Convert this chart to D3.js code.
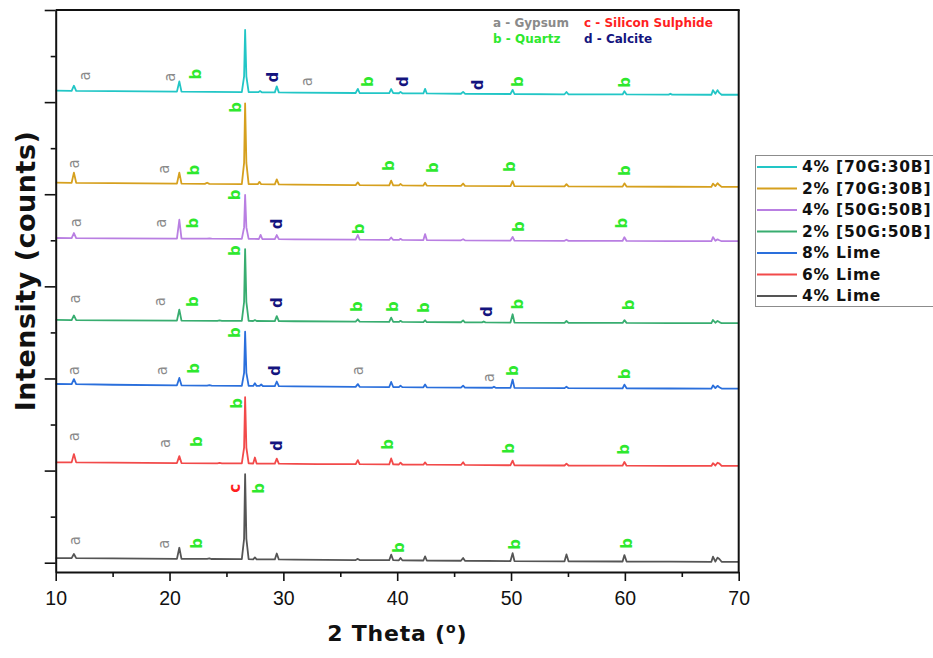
<!DOCTYPE html>
<html>
<head>
<meta charset="utf-8">
<script src="https://cdn.jsdelivr.net/npm/d3@7"></script>
<style>
  body { margin: 0; background: #fff; }
  svg { display: block; }
</style>
</head>
<body>
<svg id="chart" width="933" height="658"></svg>
<script>
// 2 theta / counts pairs (counts above each trace's offset)
const lime4 = [[10,40],[11.4,39],[11.6,84],[11.8,39],[15,36],[20.65,32],[20.86,152],[21.05,32],[23.3,31],[23.5,36],[23.7,30],[26.35,28],[26.55,250],[26.64,950],[26.75,250],[26.95,28],[27.35,27],[27.5,47],[27.65,27],[29.25,25],[29.42,90],[29.6,25],[31,23],[36.35,19],[36.54,31],[36.7,19],[39.3,17],[39.47,77],[39.65,17],[40.15,16],[40.29,41],[40.45,16],[42.3,14],[42.45,59],[42.6,14],[45.6,11],[45.79,41],[45.95,11],[49.95,8],[50.14,93],[50.3,8],[54.7,5],[54.87,80],[55.05,5],[59.8,3],[59.96,73],[60.15,3],[64,1],[67.6,0],[67.74,55],[67.95,2],[68.14,45],[68.3,30],[68.5,0],[70,0]];
const lime6 = [[10,40],[11.4,39],[11.6,129],[11.8,39],[15,36],[20.65,32],[20.86,107],[21.05,32],[24.2,29],[24.4,33],[24.6,29],[26.35,28],[26.55,200],[26.64,746],[26.75,200],[26.95,28],[27.35,27],[27.5,92],[27.65,27],[29.25,25],[29.42,80],[29.6,25],[31,23],[33,21],[36.35,19],[36.54,64],[36.7,19],[39.3,17],[39.47,82],[39.65,17],[40.15,16],[40.29,36],[40.45,16],[42.3,14],[42.45,39],[42.6,14],[45.6,11],[45.79,41],[45.95,11],[49.95,8],[50.14,58],[50.3,8],[54.7,5],[54.87,25],[55.05,5],[59.8,3],[59.96,43],[60.15,3],[64,1],[67.6,0],[67.74,30],[67.95,5],[68.14,35],[68.31,25],[68.5,0],[70,0]];
const lime8 = [[10,50],[11.4,48],[11.6,103],[11.8,48],[15,42],[20.65,36],[20.86,116],[21.05,36],[23.3,33],[23.5,37],[23.7,33],[26.35,30],[26.55,170],[26.64,618],[26.75,170],[26.95,30],[27.35,29],[27.5,59],[27.65,29],[27.9,29],[28.05,44],[28.2,28],[29.25,27],[29.42,77],[29.6,27],[31,24],[36.35,19],[36.54,49],[36.7,19],[39.3,17],[39.47,72],[39.65,17],[40.15,16],[40.29,31],[40.45,16],[42.3,14],[42.45,44],[42.6,14],[45.6,11],[45.79,31],[45.95,11],[48.35,9],[48.5,21],[48.65,9],[49.95,8],[50.14,98],[50.3,8],[54.7,5],[54.87,20],[55.05,5],[59.8,3],[59.96,43],[60.15,3],[64,1],[67.6,0],[67.74,35],[67.95,5],[68.14,30],[68.3,15],[68.5,0],[70,0]];
const gb50_2 = [[10,35],[11.4,34],[11.6,84],[11.8,34],[15,31],[20.65,28],[20.86,148],[21.05,28],[24.2,26],[24.4,30],[24.6,26],[26.35,25],[26.55,230],[26.64,805],[26.75,230],[26.95,25],[27.35,24],[27.5,34],[27.65,24],[29.25,22],[29.42,77],[29.6,22],[31,21],[36.35,17],[36.54,42],[36.7,17],[39.3,15],[39.47,60],[39.65,15],[40.15,14],[40.29,26],[40.45,14],[42.3,12],[42.45,32],[42.6,12],[45.6,10],[45.79,30],[45.95,10],[47.45,9],[47.6,19],[47.75,9],[49.95,7],[50.14,97],[50.3,7],[54.7,4],[54.87,24],[55.05,4],[59.8,3],[59.96,33],[60.15,3],[64,1],[67.6,0],[67.74,35],[67.95,5],[68.14,25],[68.3,12],[68.5,0],[70,0]];
const gb50_4 = [[10,35],[11.4,34],[11.6,89],[11.8,34],[15,31],[20.65,28],[20.86,233],[21.05,28],[23.3,27],[23.5,31],[23.7,27],[26.35,25],[26.55,150],[26.64,502],[26.75,150],[26.95,25],[27.85,24],[28.0,69],[28.15,24],[29.25,22],[29.42,67],[29.6,22],[31,21],[36.35,17],[36.54,67],[36.7,17],[39.3,15],[39.47,40],[39.65,15],[40.15,14],[40.29,26],[40.45,14],[42.3,12],[42.45,77],[42.6,12],[45.6,10],[45.79,22],[45.95,10],[49.95,7],[50.14,47],[50.3,7],[54.7,4],[54.87,16],[55.05,4],[59.8,3],[59.96,43],[60.15,3],[64,1],[67.6,0],[67.74,45],[67.95,5],[68.14,20],[68.3,10],[68.5,0],[70,0]];
const gb70_2 = [[10,45],[11.4,44],[11.6,154],[11.8,44],[15,40],[20.65,35],[20.86,155],[21.05,35],[23.1,33],[23.3,45],[23.5,33],[26.35,30],[26.55,260],[26.64,907],[26.75,260],[26.95,30],[27.75,29],[27.9,54],[28.05,29],[29.25,27],[29.42,82],[29.6,27],[31,24],[36.35,19],[36.54,49],[36.7,19],[39.3,17],[39.47,67],[39.65,17],[40.15,16],[40.29,31],[40.45,16],[42.3,14],[42.45,44],[42.6,14],[45.6,11],[45.79,36],[45.95,11],[49.95,8],[50.14,63],[50.3,8],[54.7,5],[54.87,30],[55.05,5],[59.8,3],[59.96,38],[60.15,3],[64,1],[67.6,0],[67.74,35],[67.95,8],[68.14,40],[68.3,20],[68.5,0],[70,0]];
const gb70_4 = [[10,44],[11.4,43],[11.6,98],[11.8,43],[15,39],[20.65,34],[20.86,144],[21.05,34],[26.35,29],[26.55,200],[26.64,703],[26.75,200],[26.95,29],[27.8,28],[27.95,40],[28.1,27],[29.25,26],[29.42,91],[29.6,26],[31,23],[36.35,19],[36.54,64],[36.7,19],[39.3,17],[39.47,62],[39.65,17],[40.15,16],[40.29,31],[40.45,16],[42.3,14],[42.45,64],[42.6,14],[45.6,11],[45.79,31],[45.95,11],[49.95,8],[50.14,53],[50.3,8],[54.7,5],[54.87,30],[55.05,5],[59.8,3],[59.96,38],[60.15,3],[63.85,1],[64,11],[64.15,1],[67.6,0],[67.74,50],[67.95,10],[68.14,50],[68.3,20],[68.5,0],[70,0]];

// legend order (top to bottom)
const seriesNames = ["4% [70G:30B]", "2% [70G:30B]", "4% [50G:50B]", "2% [50G:50B]", "8% Lime", "6% Lime", "4% Lime"];
const seriesData = [gb70_4, gb70_2, gb50_4, gb50_2, lime8, lime6, lime4];
const offsets = [5080, 4080, 3490, 2600, 1890, 1050, 10];
const seriesColors = ["#22c6c6", "#d6a01e", "#b97fe2", "#38ad70", "#2a6fdc", "#f24a4a", "#555555"];

const xTicks = [10, 20, 30, 40, 50, 60, 70];
const xMinor = [15, 25, 35, 45, 55, 65];
const yTicks = [0, 1000, 2000, 3000, 4000, 5000, 6000];
const yMinor = [500, 1500, 2500, 3500, 4500, 5500];

// phase letters: letter, 2 theta, counts (stacked)
const peakLabels = [
  ["a", 12.57, 5284], ["a", 20.04, 5270], ["b", 22.33, 5305], ["d", 29.07, 5270], ["a", 32.05, 5222],
  ["b", 37.47, 5222], ["d", 40.49, 5222], ["d", 47.14, 5186], ["b", 50.65, 5222], ["b", 60.03, 5215],
  ["a", 11.6, 4328], ["a", 19.52, 4271], ["b", 22.15, 4263], ["b", 25.82, 4944], ["b", 39.31, 4310],
  ["b", 43.13, 4288], ["b", 49.92, 4299], ["b", 60.03, 4256],
  ["b", 25.76, 3992], ["a", 11.78, 3691], ["a", 19.23, 3685], ["b", 22.09, 3685], ["d", 29.47, 3677],
  ["b", 36.65, 3623], ["b", 50.71, 3648], ["b", 59.79, 3685],
  ["b", 25.76, 3387], ["a", 11.7, 2863], ["a", 19.17, 2833], ["b", 22.04, 2833], ["d", 29.47, 2823],
  ["b", 36.5, 2779], ["b", 39.67, 2779], ["b", 42.36, 2768], ["d", 47.93, 2725], ["b", 50.65, 2808], ["b", 60.32, 2798],
  ["b", 25.76, 2497], ["a", 11.61, 2084], ["a", 19.31, 2084], ["b", 22.15, 2110], ["d", 29.27, 2084],
  ["a", 36.59, 2084], ["a", 48.1, 2008], ["b", 50.21, 2084], ["b", 60.03, 2049],
  ["b", 25.9, 1730], ["a", 11.61, 1368], ["a", 19.6, 1296], ["b", 22.44, 1314], ["d", 29.42, 1270],
  ["b", 39.23, 1285], ["b", 49.86, 1242], ["b", 59.88, 1231],
  ["c", 25.76, 808], ["b", 27.89, 808], ["a", 11.7, 239], ["a", 19.52, 200], ["b", 22.44, 211],
  ["b", 40.19, 163], ["b", 50.36, 200], ["b", 60.18, 211]
];
const phaseKey = [["a - Gypsum", "a"], ["c - Silicon Sulphide", "c"], ["b - Quartz", "b"], ["d - Calcite", "d"]];
const letterColors = { a: "#8a8a8a", b: "#2ee82e", c: "#ff1f1f", d: "#14147e" };

const svg = d3.select("#chart");
const plotLeft = 55.7, plotRight = 738.7, plotTop = 10, plotBottom = 572;

const x = d3.scaleLinear().domain([10, 70]).range([plotLeft, plotRight]);
const y = d3.scaleLinear().domain([-101, 6000]).range([plotBottom, plotTop]);

// traces
const line = d3.line().x(d => x(d[0]));
seriesData.forEach((s, i) => {
  line.y(d => y(d[1] + offsets[i]));
  svg.append("path")
    .attr("d", line(s))
    .attr("fill", "none")
    .attr("stroke", seriesColors[i])
    .attr("stroke-width", 1.8)
    .attr("stroke-linejoin", "round");
});

// frame top / right
svg.append("line").attr("x1", plotLeft).attr("x2", plotRight + 1).attr("y1", plotTop).attr("y2", plotTop)
  .attr("stroke", "#111").attr("stroke-width", 2);
svg.append("line").attr("x1", plotRight).attr("x2", plotRight).attr("y1", plotTop).attr("y2", plotBottom)
  .attr("stroke", "#111").attr("stroke-width", 2);

// axes
const gx = svg.append("g").attr("transform", `translate(0,${plotBottom})`)
  .call(d3.axisBottom(x).tickValues(xTicks).tickSize(9).tickSizeOuter(0).tickPadding(10).tickFormat(d3.format("d")));
svg.append("g").attr("transform", `translate(0,${plotBottom})`)
  .call(d3.axisBottom(x).tickValues(xMinor).tickSize(5).tickSizeOuter(0).tickFormat(""))
  .select(".domain").remove();
svg.append("g").attr("transform", `translate(${plotLeft},0)`)
  .call(d3.axisLeft(y).tickValues(yTicks).tickSize(11).tickSizeOuter(0).tickFormat(""));
svg.append("g").attr("transform", `translate(${plotLeft},0)`)
  .call(d3.axisLeft(y).tickValues(yMinor).tickSize(5).tickSizeOuter(0).tickFormat(""))
  .select(".domain").remove();

svg.selectAll(".domain").attr("stroke", "#111").attr("stroke-width", 2);
svg.selectAll(".tick line").attr("stroke", "#111").attr("stroke-width", 1.6);
gx.selectAll("text")
  .attr("font-family", "Liberation Sans, Arial, sans-serif")
  .attr("font-size", 19.5)
  .attr("fill", "#111");

// axis titles
const xTitle = svg.append("text")
  .attr("x", (plotLeft + plotRight) / 2).attr("y", 641)
  .attr("text-anchor", "middle")
  .attr("font-family", "DejaVu Sans, Verdana, sans-serif")
  .attr("font-weight", "bold").attr("font-size", 22).attr("letter-spacing", 0.8)
  .attr("fill", "#111");
xTitle.append("tspan").text("2 Theta (");
xTitle.append("tspan").attr("font-size", 14).attr("dy", -8).text("o");
xTitle.append("tspan").attr("dy", 8).text(")");
svg.append("text")
  .attr("transform", "translate(35,271) rotate(-90)")
  .attr("text-anchor", "middle")
  .attr("font-family", "DejaVu Sans, Verdana, sans-serif")
  .attr("font-weight", "bold").attr("font-size", 27).attr("letter-spacing", 0.5)
  .attr("fill", "#111")
  .text("Intensity (counts)");

// phase letters on peaks
svg.append("g").selectAll("text")
  .data(peakLabels)
  .enter()
  .append("text")
  .attr("transform", d => `translate(${x(d[1])},${y(d[2])}) rotate(-90)`)
  .attr("text-anchor", "middle")
  .attr("dominant-baseline", "central")
  .attr("font-family", "DejaVu Sans, Verdana, sans-serif")
  .attr("font-weight", d => d[0] === "a" ? "normal" : "bold")
  .attr("font-size", 15)
  .attr("fill", d => letterColors[d[0]])
  .text(d => d[0]);

// phase key at top
svg.append("g").selectAll("text")
  .data(phaseKey)
  .enter()
  .append("text")
  .attr("x", (d, i) => i % 2 === 0 ? 493 : 584)
  .attr("y", (d, i) => i < 2 ? 27 : 43)
  .attr("font-family", "DejaVu Sans, Verdana, sans-serif")
  .attr("font-weight", "bold")
  .attr("font-size", 12)
  .attr("fill", d => letterColors[d[1]])
  .text(d => d[0]);

// legend
const legend = svg.append("g");
legend.append("rect")
  .attr("x", 755.5).attr("y", 155.5).attr("width", 200).attr("height", 151)
  .attr("fill", "#fff").attr("stroke", "#8c8c8c").attr("stroke-width", 1);
seriesNames.forEach((name, i) => {
  const ly = 167 + i * 21.5;
  legend.append("line")
    .attr("x1", 757).attr("x2", 797).attr("y1", ly).attr("y2", ly)
    .attr("stroke", seriesColors[i]).attr("stroke-width", 2);
  legend.append("text")
    .attr("x", 802).attr("y", ly)
    .attr("dominant-baseline", "central")
    .attr("font-family", "DejaVu Sans, Verdana, sans-serif")
    .attr("font-weight", "bold").attr("font-size", 15.5).attr("letter-spacing", 0.8)
    .attr("fill", "#111")
    .text(name);
});
</script>
</body>
</html>
